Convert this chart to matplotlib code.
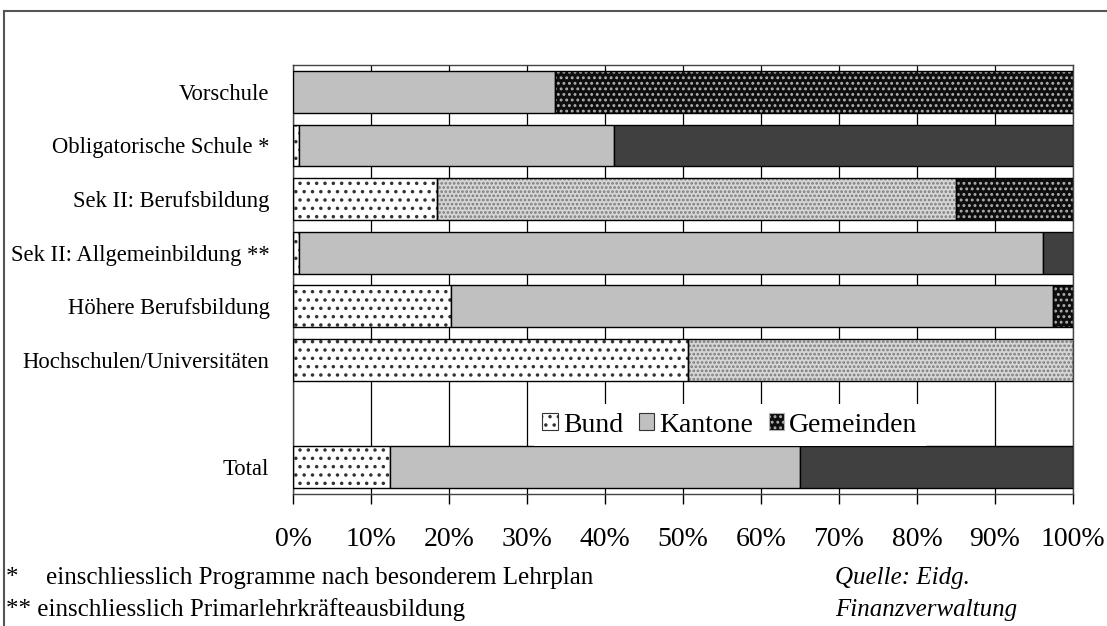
import matplotlib.pyplot as plt
from matplotlib.patches import Patch
from matplotlib.lines import Line2D
import numpy as np

plt.rcParams['font.family'] = ['Liberation Serif', 'DejaVu Serif']
plt.rcParams['hatch.linewidth'] = 1.3

# data (shares in %)
categories = ['Vorschule', 'Obligatorische Schule *', 'Sek II: Berufsbildung',
              'Sek II: Allgemeinbildung **', 'Höhere Berufsbildung',
              'Hochschulen/Universitäten', 'Total']
bund = [0.0, 0.8, 18.5, 0.8, 20.3, 50.6, 12.4]
kantone = [33.6, 40.4, 66.5, 95.4, 77.1, 49.4, 52.6]
gemeinden = [66.4, 58.8, 15.0, 3.8, 2.6, 0.0, 35.0]
series_names = ['Bund', 'Kantone', 'Gemeinden']

# which segments were rendered with a pattern instead of a flat fill
kantone_pattern = [False, False, True, False, False, True, False]
gemeinden_pattern = [True, False, True, False, True, False, False]

W, H = 1107, 626
fig = plt.figure(figsize=(W / 100, H / 100), dpi=100)
ax = fig.add_axes([293 / W, 1 - 494 / H, 780 / W, 429 / H])

# empty row between the sectors and the total
y = np.arange(len(categories), dtype=float)
y[-1] += 1
bar_h = 0.78

solid_k = '#c0c0c0'
solid_g = '#404040'
dark_face, dark_dots = '#0e0e0e', '#b0b0b0'
light_face, light_dots = '#d6d6d6', '#7a7a7a'


def segment(yy, left, width, face, hatch=None, hatch_color=None):
    if width <= 0:
        return
    if hatch:
        ax.barh(yy, width, left=left, height=bar_h, color=face, hatch=hatch,
                edgecolor=hatch_color, linewidth=0, zorder=2)
        ax.barh(yy, width, left=left, height=bar_h, fill=False,
                edgecolor='black', linewidth=1, zorder=3)
    else:
        ax.barh(yy, width, left=left, height=bar_h, color=face,
                edgecolor='black', linewidth=1, zorder=3)


for i in range(len(categories)):
    segment(y[i], 0, bund[i], 'white', '..', '#333333')
    if kantone_pattern[i]:
        segment(y[i], bund[i], kantone[i], light_face, '....', light_dots)
    else:
        segment(y[i], bund[i], kantone[i], solid_k)
    left_g = bund[i] + kantone[i]
    if gemeinden_pattern[i]:
        segment(y[i], left_g, gemeinden[i], dark_face, '...', dark_dots)
    else:
        segment(y[i], left_g, gemeinden[i], solid_g)

ax.set_xlim(0, 100)
ax.set_ylim(y[-1] + 0.5, -0.5)
ax.set_xticks(np.arange(0, 101, 10))
ax.set_xticklabels([f'{v}%' for v in range(0, 101, 10)], fontsize=20)
ax.set_yticks(y)
ax.set_yticklabels(categories, fontsize=16.3)
ax.tick_params(axis='x', length=7, width=1, pad=17, direction='out')
ax.tick_params(axis='y', length=0, pad=17)
ax.xaxis.grid(True, color='black', linewidth=0.9, zorder=0)
ax.set_axisbelow(True)
for s in ax.spines.values():
    s.set_color('#444444')
    s.set_linewidth(1)

handles = [
    Patch(facecolor='white', hatch='..', edgecolor='#333333', linewidth=0.8),
    Patch(facecolor=solid_k, edgecolor='#333333', linewidth=0.8),
    Patch(facecolor=dark_face, hatch='...', edgecolor=dark_dots, linewidth=0.8),
]
leg = ax.legend(handles, series_names, loc='center', ncol=3,
                bbox_to_anchor=(730 / W, 1 - 425 / H),
                bbox_transform=fig.transFigure, fontsize=20,
                frameon=True, fancybox=False, framealpha=1,
                handlelength=0.55, handleheight=0.55, handletextpad=0.2,
                columnspacing=0.55, borderpad=0.3)
leg.get_frame().set_edgecolor('none')
leg.get_frame().set_facecolor('white')
leg.set_zorder(5)

# outer frame (top and left edges only)
fig.add_artist(Line2D([4 / W, 1], [1 - 11 / H, 1 - 11 / H],
                      transform=fig.transFigure, color='#555555', lw=1.5))
fig.add_artist(Line2D([4 / W, 4 / W], [0, 1 - 11 / H],
                      transform=fig.transFigure, color='#555555', lw=1.5))

# footnotes and source
fig.text(6 / W, 1 - 578 / H, '*', fontsize=18, va='center')
fig.text(46 / W, 1 - 578 / H, 'einschliesslich Programme nach besonderem Lehrplan',
         fontsize=18, va='center')
fig.text(6 / W, 1 - 610 / H, '** einschliesslich Primarlehrkräfteausbildung',
         fontsize=18, va='center')
fig.text(835 / W, 1 - 578 / H, 'Quelle: Eidg.', fontsize=18, va='center',
         style='italic')
fig.text(835 / W, 1 - 610 / H, 'Finanzverwaltung', fontsize=18, va='center',
         style='italic')

fig.savefig('out.png', dpi=100)
